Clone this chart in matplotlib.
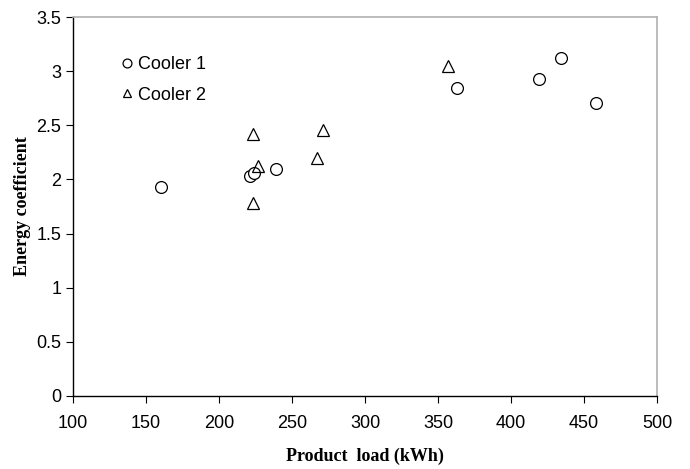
import matplotlib.pyplot as plt

# Cooler 1 (circles)
c1_load = [160, 221, 224, 239, 363, 419, 434, 458]
c1_coef = [1.93, 2.03, 2.06, 2.10, 2.84, 2.93, 3.12, 2.71]

# Cooler 2 (triangles)
c2_load = [223, 227, 223, 267, 271, 357]
c2_coef = [2.42, 2.12, 1.78, 2.20, 2.46, 3.05]

x_ticks = [100, 150, 200, 250, 300, 350, 400, 450, 500]
y_ticks = [0, 0.5, 1, 1.5, 2, 2.5, 3, 3.5]

plt.rcParams['font.family'] = ['Liberation Sans', 'DejaVu Sans']

fig, ax = plt.subplots(figsize=(6.9, 4.69), dpi=100)
fig.subplots_adjust(left=73 / 690, right=657 / 690, top=1 - 17 / 469, bottom=1 - 396 / 469)

ax.plot(c1_load, c1_coef, 'o', mfc='white', mec='black', mew=0.9, ms=8.5, label='Cooler 1')
ax.plot(c2_load, c2_coef, '^', mfc='none', mec='black', mew=0.9, ms=8.5, label='Cooler 2')

ax.set_xlim(100, 500)
ax.set_ylim(0, 3.5)
ax.set_xticks(x_ticks)
ax.set_yticks(y_ticks)
ax.set_yticklabels([f'{v:g}' for v in y_ticks])
ax.tick_params(direction='out', length=5, width=0.8, labelsize=13, color='black')
ax.tick_params(axis='x', pad=9)

for side in ['left', 'bottom']:
    ax.spines[side].set_color('black')
    ax.spines[side].set_linewidth(1.0)
for side in ['top', 'right']:
    ax.spines[side].set_color('#b0b0b0')
    ax.spines[side].set_linewidth(1.2)

ax.set_xlabel('Product  load (kWh)', family='Liberation Serif', fontweight='bold', fontsize=13, labelpad=11)
ax.set_ylabel('Energy coefficient', family='Liberation Serif', fontweight='bold', fontsize=13, labelpad=4)

ax.legend(loc='upper left', bbox_to_anchor=(0.055, 0.94), frameon=False, fontsize=13,
          markerscale=0.75, handlelength=0.6, handletextpad=0.3, labelspacing=0.75)

fig.savefig('out.png', dpi=100)
